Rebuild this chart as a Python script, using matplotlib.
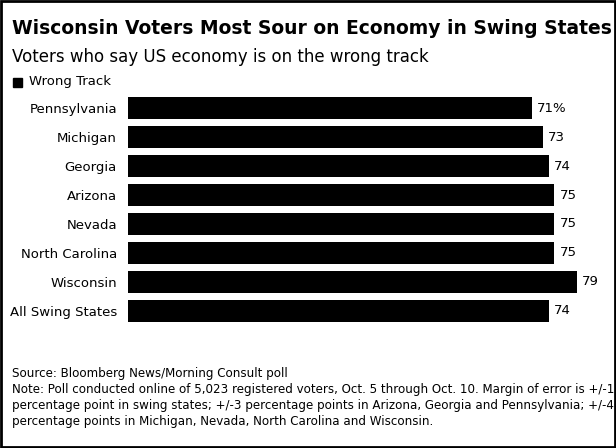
import matplotlib.pyplot as plt

states = ["Pennsylvania", "Michigan", "Georgia", "Arizona", "Nevada",
          "North Carolina", "Wisconsin", "All Swing States"]
wrong_track = [71, 73, 74, 75, 75, 75, 79, 74]
value_labels = ["71%", "73", "74", "75", "75", "75", "79", "74"]

fig = plt.figure(figsize=(6.16, 4.48), dpi=100)
ax = fig.add_axes([128/616, 1-325/448, 472/616, 231/448])
y = list(range(len(states)))
ax.barh(y, wrong_track, height=0.76, color="black")
ax.set_ylim(len(states)-0.5, -0.5)
ax.set_xlim(0, 79*472/449)
for i, (v, t) in enumerate(zip(wrong_track, value_labels)):
    ax.text(v + 0.9, i, t, va="center", ha="left", fontsize=9.5)
ax.set_yticks(y)
ax.set_yticklabels(states, fontsize=9.5)
ax.tick_params(axis="y", length=0, pad=8)
ax.set_xticks([])
for s in ax.spines.values():
    s.set_visible(False)

fig.text(12/616, 1-28/448, "Wisconsin Voters Most Sour on Economy in Swing States",
         fontsize=13.5, fontweight="bold", va="center")
fig.text(12/616, 1-57/448, "Voters who say US economy is on the wrong track",
         fontsize=12, va="center")
fig.patches.append(plt.Rectangle((13/616, 1-87/448), 9/616, 9/448,
                                 transform=fig.transFigure, color="black"))
fig.text(29/616, 1-82/448, "Wrong Track", fontsize=9.5, va="center")

foot = ["Source: Bloomberg News/Morning Consult poll",
        "Note: Poll conducted online of 5,023 registered voters, Oct. 5 through Oct. 10. Margin of error is +/-1",
        "percentage point in swing states; +/-3 percentage points in Arizona, Georgia and Pennsylvania; +/-4",
        "percentage points in Michigan, Nevada, North Carolina and Wisconsin."]
for k, line in enumerate(foot):
    fig.text(12/616, 1-(373+16.3*k)/448, line, fontsize=8.6, va="center")

fig.patches.append(plt.Rectangle((0.002, 0.003), 0.996, 0.994, transform=fig.transFigure,
                                 fill=False, edgecolor="black", linewidth=2))
fig.savefig("out.png", dpi=100)
